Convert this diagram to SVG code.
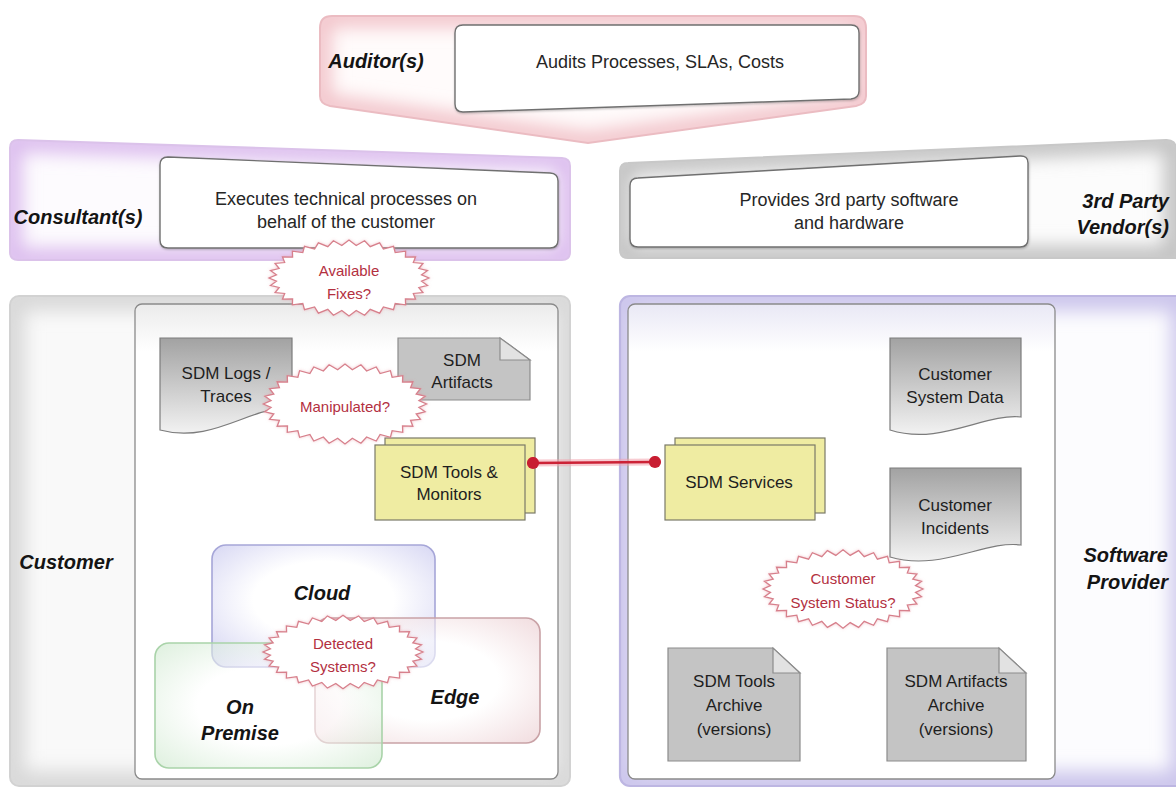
<svg xmlns="http://www.w3.org/2000/svg" width="1176" height="790" viewBox="0 0 1176 790">
  <style>
    text { font-family: "Liberation Sans", Arial, Helvetica, sans-serif; dominant-baseline: central; text-anchor: middle; }
    .lbl { font-size: 20px; font-weight: bold; font-style: italic; fill: #141414; }
    .body { font-size: 18px; fill: #262626; }
    .node { font-size: 17px; fill: #1e1e1e; }
    .q { font-size: 15px; fill: #b3303f; }
    .card { fill: #ffffff; stroke: #707070; stroke-width: 1.4; filter: url(#shadow); }
    .doc { fill: url(#docGrad); stroke: #7c7c7c; stroke-width: 1.2; }
    .note { fill: #c4c4c4; stroke: #8c8c8c; stroke-width: 1.2; }
    .fold { fill: #e2e2e2; stroke: #8c8c8c; stroke-width: 1.2; }
    .comp { fill: #efeca2; stroke: #7a7a68; stroke-width: 1.2; }
    .burst { fill: #ffffff; stroke: #d7808c; stroke-width: 1.3; stroke-linejoin: miter; filter: url(#glow); }
    .zone { stroke-width: 1.6; }
    .halo { fill: none; filter: url(#soft); }
  </style>
  <defs>
    <!-- lane outlines, reused for fill, inner glow, clip and border -->
    <path id="auditorShape" d="M332,16 H854 Q866,16 866,28 V96 Q866,104 856,106 L588,143 L330,106 Q320,104 320,96 V28 Q320,16 332,16 Z"/>
    <path id="consultantShape" d="M18,140 L562,158 Q570,158.3 570,166 V252 Q570,260 562,260 H18 Q10,260 10,252 V148 Q10,140 18,140 Z"/>
    <path id="vendorShape" d="M628,163 L1166,140 Q1176,139.6 1176,150 V258 H628 Q620,258 620,250 V171 Q620,163 628,163 Z"/>
    <rect id="customerShape" x="10" y="296" width="560" height="490" rx="9"/>
    <rect id="providerShape" x="620" y="296" width="566" height="490" rx="10"/>
    <clipPath id="cpAuditor"><use href="#auditorShape"/></clipPath>
    <clipPath id="cpConsultant"><use href="#consultantShape"/></clipPath>
    <clipPath id="cpVendor"><use href="#vendorShape"/></clipPath>
    <clipPath id="cpCustomer"><use href="#customerShape"/></clipPath>
    <clipPath id="cpProvider"><use href="#providerShape"/></clipPath>

    <linearGradient id="innerGrad" x1="0" y1="0" x2="0" y2="1">
      <stop offset="0" stop-color="#ebebeb"/>
      <stop offset="0.1" stop-color="#ffffff"/>
      <stop offset="1" stop-color="#ffffff"/>
    </linearGradient>
    <linearGradient id="innerGradP" x1="0" y1="0" x2="0" y2="1">
      <stop offset="0" stop-color="#e9e8f5"/>
      <stop offset="0.1" stop-color="#ffffff"/>
      <stop offset="1" stop-color="#ffffff"/>
    </linearGradient>
    <linearGradient id="docGrad" x1="0" y1="0" x2="0" y2="1">
      <stop offset="0" stop-color="#a2a2a2"/>
      <stop offset="1" stop-color="#f2f2f2"/>
    </linearGradient>
    <radialGradient id="gCloud" cx="0.5" cy="0.45" r="0.7">
      <stop offset="0.45" stop-color="#ffffff"/>
      <stop offset="1" stop-color="#c6c6ee"/>
    </radialGradient>
    <radialGradient id="gEdge" cx="0.5" cy="0.5" r="0.7">
      <stop offset="0.45" stop-color="#ffffff"/>
      <stop offset="1" stop-color="#e8c6ca"/>
    </radialGradient>
    <radialGradient id="gPrem" cx="0.5" cy="0.5" r="0.7">
      <stop offset="0.45" stop-color="#ffffff"/>
      <stop offset="1" stop-color="#c4e4c4"/>
    </radialGradient>
    <filter id="soft" filterUnits="userSpaceOnUse" x="0" y="0" width="1176" height="790">
      <feGaussianBlur stdDeviation="9"/>
    </filter>
    <filter id="shadow" x="-5%" y="-5%" width="110%" height="115%">
      <feDropShadow dx="0.5" dy="1" stdDeviation="1.2" flood-color="#000" flood-opacity="0.25"/>
    </filter>
    <filter id="glow" x="-10%" y="-15%" width="120%" height="130%">
      <feDropShadow dx="0" dy="0" stdDeviation="1.5" flood-color="#e48a98" flood-opacity="0.5"/>
    </filter>
    <!-- zig-zag callout outline, 160 x 80, centred on the origin -->
    <path id="burstShape" d="M80,0 L72.5,3.4 78.5,7.8 69.8,10 73.9,15.3 64.3,16.3 66.5,22.2 56.4,21.9 56.6,28.3 46.2,26.7 44.5,33.3 34.4,30.4 30.6,37 21.2,33 15.6,39.2 7.2,34.3 0,40 -7.2,34.3 -15.6,39.2 -21.2,33 -30.6,37 -34.4,30.4 -44.5,33.3 -46.2,26.7 -56.6,28.3 -56.4,21.9 -66.5,22.2 -64.3,16.3 -73.9,15.3 -69.8,10 -78.5,7.8 -72.5,3.4 -80,0 -72.5,-3.4 -78.5,-7.8 -69.8,-10 -73.9,-15.3 -64.3,-16.3 -66.5,-22.2 -56.4,-21.9 -56.6,-28.3 -46.2,-26.7 -44.5,-33.3 -34.4,-30.4 -30.6,-37 -21.2,-33 -15.6,-39.2 -7.2,-34.3 0,-40 7.2,-34.3 15.6,-39.2 21.2,-33 30.6,-37 34.4,-30.4 44.5,-33.3 46.2,-26.7 56.6,-28.3 56.4,-21.9 66.5,-22.2 64.3,-16.3 73.9,-15.3 69.8,-10 78.5,-7.8 72.5,-3.4 Z"/>
    <marker id="dot" viewBox="0 0 12 12" refX="6" refY="6" markerWidth="13" markerHeight="13" markerUnits="userSpaceOnUse">
      <circle cx="6" cy="6" r="5.6" fill="#c81e32"/>
    </marker>
  </defs>

  <rect width="1176" height="790" fill="#ffffff"/>

  <!-- Auditor lane -->
  <g id="auditor">
    <use href="#auditorShape" fill="#fffbfb"/>
    <use href="#auditorShape" class="halo" stroke="#f2c4ca" stroke-width="22" clip-path="url(#cpAuditor)"/>
    <use href="#auditorShape" fill="none" stroke="#ebbcc2" stroke-width="2"/>
    <text class="lbl" x="376" y="61">Auditor(s)</text>
    <path class="card" d="M463,25 H851 Q859,25 859,33 V91 Q859,98 851,99 L463,112 Q455,112 455,104 V33 Q455,25 463,25 Z"/>
    <text class="body" x="660" y="62">Audits Processes, SLAs, Costs</text>
  </g>

  <!-- Consultant lane -->
  <g id="consultant">
    <use href="#consultantShape" fill="#fdfbfe"/>
    <use href="#consultantShape" class="halo" stroke="#dcbdee" stroke-width="24" clip-path="url(#cpConsultant)"/>
    <use href="#consultantShape" fill="none" stroke="#dbc2ea" stroke-width="2"/>
    <text class="lbl" x="78" y="217">Consultant(s)</text>
    <path class="card" d="M168,157 L550,173 Q558,173.4 558,181 V240 Q558,248 550,248 H168 Q160,248 160,240 V165 Q160,157 168,157 Z"/>
    <text class="body" x="346" y="199">Executes technical processes on</text>
    <text class="body" x="346" y="222">behalf of the customer</text>
  </g>

  <!-- 3rd party vendor lane -->
  <g id="vendor">
    <use href="#vendorShape" fill="#fcfcfc"/>
    <use href="#vendorShape" class="halo" stroke="#c2c2c2" stroke-width="24" clip-path="url(#cpVendor)"/>
    <use href="#vendorShape" fill="none" stroke="#c8c8c8" stroke-width="2"/>
    <path class="card" d="M638,178 L1020,156 Q1028,155.6 1028,163 V239 Q1028,247 1020,247 H638 Q630,247 630,239 V186 Q630,178 638,178 Z"/>
    <text class="body" x="849" y="200">Provides 3rd party software</text>
    <text class="body" x="849" y="223">and hardware</text>
    <text class="lbl" x="1169" y="201" style="text-anchor:end">3rd Party</text>
    <text class="lbl" x="1169" y="227" style="text-anchor:end">Vendor(s)</text>
  </g>

  <!-- Customer lane -->
  <g id="customer">
    <use href="#customerShape" fill="#f9f9f9"/>
    <use href="#customerShape" class="halo" stroke="#d9d9d9" stroke-width="30" clip-path="url(#cpCustomer)"/>
    <use href="#customerShape" fill="none" stroke="#d2d2d2" stroke-width="2"/>
    <text class="lbl" x="66" y="562">Customer</text>
    <rect x="135" y="304" width="423" height="475" rx="7" fill="url(#innerGrad)" stroke="#8a8a8a" stroke-width="1.3"/>
  </g>

  <!-- Software provider lane -->
  <g id="provider">
    <use href="#providerShape" fill="#fcfcfe"/>
    <use href="#providerShape" class="halo" stroke="#ccc6ec" stroke-width="30" clip-path="url(#cpProvider)"/>
    <use href="#providerShape" fill="none" stroke="#bdb6e2" stroke-width="2.2"/>
    <rect x="628" y="304" width="427" height="475" rx="7" fill="url(#innerGradP)" stroke="#8a8a8a" stroke-width="1.3"/>
    <text class="lbl" x="1168" y="555" style="text-anchor:end">Software</text>
    <text class="lbl" x="1168" y="582" style="text-anchor:end">Provider</text>
  </g>

  <!-- Customer-side artefacts -->
  <g id="sdm-logs">
    <path class="doc" d="M160,338 H292 V410 C255,402 215,445 160,430 Z"/>
    <text class="node" x="226" y="373">SDM Logs /</text>
    <text class="node" x="226" y="396">Traces</text>
  </g>
  <g id="sdm-artifacts">
    <path class="note" d="M398,338 H500 L530,360 V400 H398 Z"/>
    <path class="fold" d="M500,338 V360 H530 Z"/>
    <text class="node" x="462" y="360">SDM</text>
    <text class="node" x="462" y="382">Artifacts</text>
  </g>
  <g id="sdm-tools">
    <rect class="comp" x="385" y="438" width="150" height="75"/>
    <rect class="comp" x="375" y="445" width="150" height="75"/>
    <text class="node" x="449" y="472">SDM Tools &amp;</text>
    <text class="node" x="449" y="494">Monitors</text>
  </g>

  <!-- Deployment targets -->
  <g id="cloud">
    <rect class="zone" x="212" y="545" width="223" height="122" rx="14" fill="url(#gCloud)" fill-opacity="0.75" stroke="#a6a6d8"/>
  </g>
  <g id="edge">
    <rect class="zone" x="315" y="618" width="225" height="125" rx="14" fill="url(#gEdge)" fill-opacity="0.6" stroke="#c9a2a6"/>
  </g>
  <g id="on-premise">
    <rect class="zone" x="155" y="643" width="227" height="125" rx="14" fill="url(#gPrem)" fill-opacity="0.55" stroke="#a9d3a9"/>
  </g>
  <text class="lbl" x="322" y="593">Cloud</text>
  <text class="lbl" x="455" y="697">Edge</text>
  <text class="lbl" x="240" y="707">On</text>
  <text class="lbl" x="240" y="733">Premise</text>

  <!-- Provider-side artefacts -->
  <g id="customer-system-data">
    <path class="doc" d="M890,338 H1021 V417 C985,413 940,446 890,430 Z"/>
    <text class="node" x="955" y="374">Customer</text>
    <text class="node" x="955" y="397">System Data</text>
  </g>
  <g id="customer-incidents">
    <path class="doc" d="M890,468 H1021 V545 C985,540 940,572 890,557 Z"/>
    <text class="node" x="955" y="505">Customer</text>
    <text class="node" x="955" y="528">Incidents</text>
  </g>
  <g id="sdm-services">
    <rect class="comp" x="675" y="438" width="150" height="75"/>
    <rect class="comp" x="665" y="445" width="150" height="75"/>
    <text class="node" x="739" y="482">SDM Services</text>
  </g>
  <g id="tools-archive">
    <path class="note" d="M668,648 H773 L800,673 V761 H668 Z"/>
    <path class="fold" d="M773,648 V673 H800 Z"/>
    <text class="node" x="734" y="681">SDM Tools</text>
    <text class="node" x="734" y="705">Archive</text>
    <text class="node" x="734" y="729">(versions)</text>
  </g>
  <g id="artifacts-archive">
    <path class="note" d="M887,648 H999 L1026,673 V761 H887 Z"/>
    <path class="fold" d="M999,648 V673 H1026 Z"/>
    <text class="node" x="956" y="681">SDM Artifacts</text>
    <text class="node" x="956" y="705">Archive</text>
    <text class="node" x="956" y="729">(versions)</text>
  </g>

  <!-- Connectors -->
  <g id="connectors">
    <path d="M533,463 L655,462" fill="none" stroke="#f2a2ad" stroke-width="7" stroke-opacity="0.55"/>
    <path d="M533,463 L655,462" fill="none" stroke="#cc2236" stroke-width="2.6" marker-start="url(#dot)" marker-end="url(#dot)"/>
  </g>

  <!-- Open questions -->
  <g id="q-fixes">
    <use href="#burstShape" class="burst" transform="translate(349,278) scale(1,0.95)"/>
    <text class="q" x="349" y="270">Available</text>
    <text class="q" x="349" y="293">Fixes?</text>
  </g>
  <g id="q-manipulated">
    <use href="#burstShape" class="burst" transform="translate(345,404) scale(1.02,1)"/>
    <text class="q" x="345" y="406">Manipulated?</text>
  </g>
  <g id="q-detected">
    <use href="#burstShape" class="burst" transform="translate(343,652) scale(1,0.92)"/>
    <text class="q" x="343" y="643">Detected</text>
    <text class="q" x="343" y="666">Systems?</text>
  </g>
  <g id="q-status">
    <use href="#burstShape" class="burst" transform="translate(843,589) scale(1,0.98)"/>
    <text class="q" x="843" y="578">Customer</text>
    <text class="q" x="843" y="602">System Status?</text>
  </g>
</svg>
